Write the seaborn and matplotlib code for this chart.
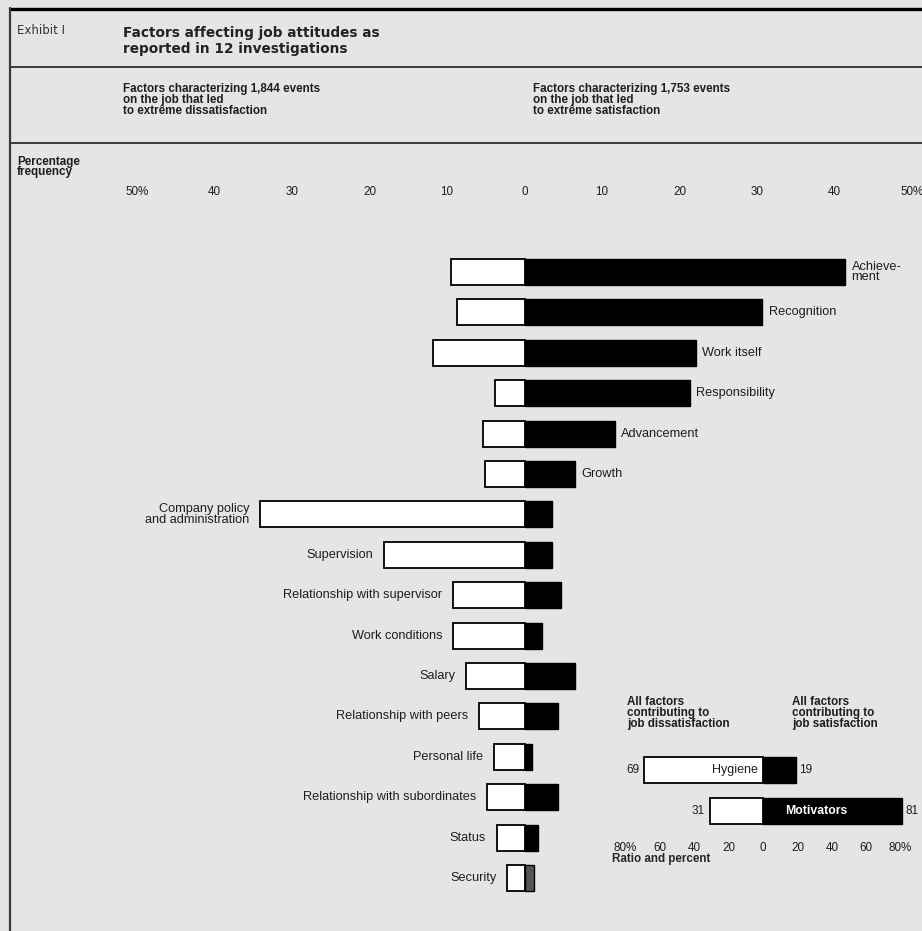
import numpy as np
import pandas as pd
import matplotlib
matplotlib.use("Agg")
import matplotlib.pyplot as plt
from matplotlib.lines import Line2D
import seaborn as sns

# ---------------- data ----------------
factors = ["Achievement", "Recognition", "Work itself", "Responsibility",
           "Advancement", "Growth", "Company policy and administration",
           "Supervision", "Relationship with supervisor", "Work conditions",
           "Salary", "Relationship with peers", "Personal life",
           "Relationship with subordinates", "Status", "Security"]
factor_labels = ["Achieve-\nment", "Recognition", "Work itself", "Responsibility",
                 "Advancement", "Growth", "Company policy\nand administration",
                 "Supervision", "Relationship with supervisor", "Work conditions",
                 "Salary", "Relationship with peers", "Personal life",
                 "Relationship with subordinates", "Status", "Security"]
dissatisfaction = [9.5, 8.7, 11.8, 3.8, 5.4, 5.1, 34.1, 18.1, 9.2, 9.2,
                   7.5, 5.9, 4.0, 4.8, 3.6, 2.2]
satisfaction = [41.4, 30.7, 22.1, 21.3, 11.7, 6.5, 3.6, 3.6, 4.7, 2.3,
                6.5, 4.3, 1.0, 4.3, 1.8, 1.2]
n_motivators = 6

freq_ticks = [-50, -40, -30, -20, -10, 0, 10, 20, 30, 40, 50]
freq_tick_labels = ["50%", "40", "30", "20", "10", "0", "10", "20", "30", "40", "50%"]

summary_groups = ["Hygiene", "Motivators"]
summary_dis = [69, 31]
summary_sat = [19, 81]
ratio_ticks = [-80, -60, -40, -20, 0, 20, 40, 60, 80]
ratio_tick_labels = ["80%", "60", "40", "20", "0", "20", "40", "60", "80%"]

# ---------------- style ----------------
sns.set_theme(style="white")
BG = "#e5e5e5"
INK = "#1e1e1e"
plt.rcParams["font.family"] = ["Liberation Sans", "DejaVu Sans"]
plt.rcParams["text.color"] = INK

W, H = 922, 931
fig = plt.figure(figsize=(W / 100, H / 100), dpi=100)
fig.patch.set_facecolor(BG)


def fx(p):
    return p / W


def fy(p):
    return 1 - p / H


# ---------------- frame lines ----------------
fig.add_artist(Line2D([fx(10), 1], [fy(9), fy(9)], color="black", lw=2.4,
                      transform=fig.transFigure))
fig.add_artist(Line2D([fx(10), 1], [fy(67), fy(67)], color="#3a3a3a", lw=1.4,
                      transform=fig.transFigure))
fig.add_artist(Line2D([fx(10), 1], [fy(143), fy(143)], color="#3a3a3a", lw=1.4,
                      transform=fig.transFigure))
fig.add_artist(Line2D([fx(10), fx(10)], [fy(8), 0], color="#3a3a3a", lw=1.6,
                      transform=fig.transFigure))

# ---------------- header texts ----------------
fig.text(fx(17), fy(31), "Exhibit I", fontsize=8.5, color="#333333",
         family=["DejaVu Sans"], va="center", ha="left")
fig.text(fx(123), fy(41), "Factors affecting job attitudes as\nreported in 12 investigations",
         fontsize=9.8, fontweight="bold", family=["DejaVu Sans"], va="center",
         ha="left", linespacing=1.25, color="#222222")
fig.text(fx(123), fy(100), "Factors characterizing 1,844 events\non the job that led\nto extrême dissatisfaction",
         fontsize=8.4, fontweight="bold", va="center", ha="left", linespacing=0.88)
fig.text(fx(533), fy(100), "Factors characterizing 1,753 events\non the job that led\nto extrême satisfaction",
         fontsize=8.4, fontweight="bold", va="center", ha="left", linespacing=0.88)
fig.text(fx(17), fy(167), "Percentage\nfrequency", fontsize=8.4, fontweight="bold",
         va="center", ha="left", linespacing=0.88)

# ---------------- main chart ----------------
df = pd.DataFrame({"factor": factors,
                   "dis": dissatisfaction,
                   "sat": satisfaction})
df["neg_dis"] = -df["dis"]
sat_palette = {f: ("#555555" if f == "Security" else "black") for f in factors}

x_left, x_right = 137, 912
y_top, y_bot = 212, 931
row0, row_step = 272, 40.4
ax = fig.add_axes([fx(x_left), fy(y_bot), (x_right - x_left) / W, (y_bot - y_top) / H])
ax.set_facecolor("none")

sns.barplot(data=df, x="neg_dis", y="factor", color="white", edgecolor="black",
            linewidth=1.3, width=0.64, errorbar=None, orient="h", ax=ax,
            saturation=1)
sns.barplot(data=df, x="sat", y="factor", hue="factor", palette=sat_palette,
            edgecolor="black", linewidth=1.0, width=0.64, errorbar=None,
            orient="h", ax=ax, legend=False, saturation=1)

ax.set_xlim(-50, 50)
ax.set_ylim((y_bot - row0) / row_step, (y_top - row0) / row_step)
ax.xaxis.tick_top()
ax.set_xticks(freq_ticks)
ax.set_xticklabels(freq_tick_labels)
ax.tick_params(axis="x", length=0, pad=10, labelsize=8.4, labelcolor=INK)
ax.set_yticks([])
ax.set_xlabel("")
ax.set_ylabel("")
for s in ax.spines.values():
    s.set_visible(False)

for i, (lab, d, s) in enumerate(zip(factor_labels, dissatisfaction, satisfaction)):
    if i < n_motivators:
        ax.text(s + 0.8, i, lab, ha="left", va="center", fontsize=9.2,
                linespacing=0.85)
    else:
        ax.text(-d - 1.4, i, lab, ha="right", va="center", fontsize=9.2,
                linespacing=0.9, multialignment="right")

# ---------------- summary inset ----------------
sdf = pd.DataFrame({"group": summary_groups, "dis": summary_dis, "sat": summary_sat})
sdf["neg_dis"] = -sdf["dis"]
zero_px, px_per = 763, 1.72
in_l, in_r, in_t, in_b = 600, 922, 745, 835
srow0, srow_step = 770, 41
ax2 = fig.add_axes([fx(in_l), fy(in_b), (in_r - in_l) / W, (in_b - in_t) / H])
ax2.set_facecolor("none")
sns.barplot(data=sdf, x="neg_dis", y="group", color="white", edgecolor="black",
            linewidth=1.3, width=0.634, errorbar=None, orient="h", ax=ax2,
            saturation=1)
sns.barplot(data=sdf, x="sat", y="group", color="black", edgecolor="black",
            linewidth=1.0, width=0.634, errorbar=None, orient="h", ax=ax2,
            saturation=1)
ax2.set_xlim((in_l - zero_px) / px_per, (in_r - zero_px) / px_per)
ax2.set_ylim((in_b - srow0) / srow_step, (in_t - srow0) / srow_step)
ax2.set_xticks(ratio_ticks)
ax2.set_xticklabels(ratio_tick_labels)
ax2.tick_params(axis="x", length=0, pad=5, labelsize=8.4, labelcolor=INK)
ax2.set_yticks([])
ax2.set_ylabel("")
ax2.set_xlabel("Ratio and percent", fontsize=8.4, fontweight="bold", labelpad=1,
               ha="left")
ax2.xaxis.set_label_coords((612 - in_l) / (in_r - in_l), -0.2)
for s in ax2.spines.values():
    s.set_visible(False)

for i, (g, d, s) in enumerate(zip(summary_groups, summary_dis, summary_sat)):
    ax2.text(-d - 3, i, f"{d}", ha="right", va="center", fontsize=8.5)
    ax2.text(s + 1.8, i, f"{s}", ha="left", va="center", fontsize=8.5)
ax2.text(-3, 0, summary_groups[0], ha="right", va="center", fontsize=9)
ax2.text(31, 1, summary_groups[1], ha="center", va="center", fontsize=8.8,
         fontweight="bold", color="white")

fig.text(fx(627), fy(713), "All factors\ncontributing to\njob dissatisfaction",
         fontsize=8.4, fontweight="bold", va="center", ha="left", linespacing=0.9)
fig.text(fx(792), fy(713), "All factors\ncontributing to\njob satisfaction",
         fontsize=8.4, fontweight="bold", va="center", ha="left", linespacing=0.9)

fig.savefig("out.png", dpi=100, facecolor=BG)
